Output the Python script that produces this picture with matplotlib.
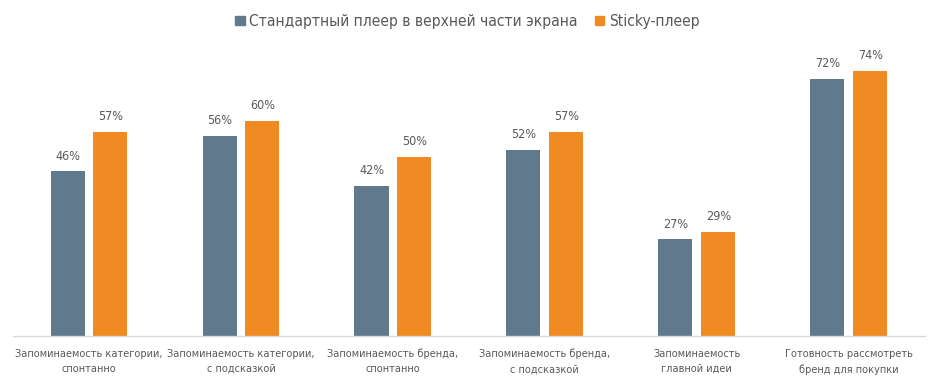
import os
import matplotlib
matplotlib.use('Agg')
import numpy as np
import matplotlib.pyplot as plt
from matplotlib import font_manager
from matplotlib.patches import Patch

categories = [
    'Запоминаемость категории,\nспонтанно',
    'Запоминаемость категории,\nс подсказкой',
    'Запоминаемость бренда,\nспонтанно',
    'Запоминаемость бренда,\nс подсказкой',
    'Запоминаемость\nглавной идеи',
    'Готовность рассмотреть\nбренд для покупки',
]
standard = [46, 56, 42, 52, 27, 72]
sticky = [57, 60, 50, 57, 29, 74]
series_names = ['Стандартный плеер в верхней части экрана', 'Sticky-плеер']

c_gray = '#61798D'
c_orange = '#EF8B22'
txt = '#595959'

# the original is in Arial Narrow; use a condensed face that has Cyrillic
narrow = None
for f in font_manager.fontManager.ttflist:
    if os.path.basename(f.fname) == 'DejaVuSansCondensed.ttf':
        narrow = f.fname
        break
fp = font_manager.FontProperties(fname=narrow) if narrow else font_manager.FontProperties(family='Liberation Sans')

fig = plt.figure(figsize=(9.35, 3.83), dpi=100)
ax = fig.add_axes([0.014, 0.1227, 0.975, 0.747])

x = np.arange(len(categories))
w = 0.224
off = 0.141
b1 = ax.bar(x - off, standard, w, color=c_gray)
b2 = ax.bar(x + off, sticky, w, color=c_orange)

for bars, vals in ((b1, standard), (b2, sticky)):
    for r, v in zip(bars, vals):
        ax.text(r.get_x() + r.get_width() / 2, v + 2.5, f'{v}%', ha='center', va='bottom',
                fontproperties=fp, fontsize=9, color=txt)

ax.set_xlim(-0.5, len(categories) - 0.5)
ax.set_ylim(0, 80)
ax.set_yticks([])
ax.set_xticks(x)
ax.set_xticklabels(categories, fontproperties=fp, fontsize=7.8, color=txt, linespacing=1.65)
ax.tick_params(axis='x', length=0, pad=9)
for s in ['top', 'right', 'left']:
    ax.spines[s].set_visible(False)
ax.spines['bottom'].set_color('#D9D9D9')
ax.spines['bottom'].set_linewidth(1)

lp = fp.copy()
lp.set_size(11.2)
handles = [Patch(color=c_gray), Patch(color=c_orange)]
fig.legend(handles, series_names, loc='upper center', bbox_to_anchor=(0.5, 1.0), ncol=2,
           frameon=False, prop=lp, labelcolor=txt, handlelength=0.6, handleheight=0.6,
           handletextpad=0.3, columnspacing=1.1)

fig.savefig('out.png', dpi=100)
